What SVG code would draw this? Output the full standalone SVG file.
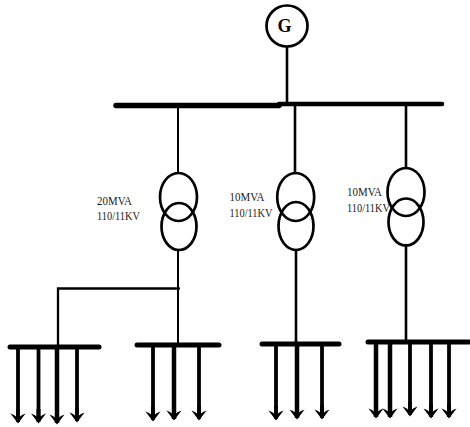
<svg xmlns="http://www.w3.org/2000/svg" width="470" height="427" viewBox="0 0 470 427">
  <style>
    .l{fill:none;stroke:#000;stroke-linecap:round}
    .c{fill:none;stroke:#000;stroke-width:2.7}
    .t{font-family:"Liberation Serif","Times New Roman",serif;font-size:11.5px;fill:#1c1c1c}
    .a{fill:none;stroke:#000;stroke-width:3.8;marker-end:url(#h)}
  </style>
  <defs>
    <marker id="h" markerUnits="userSpaceOnUse" markerWidth="16" markerHeight="15" refX="8" refY="13" orient="0" viewBox="0 0 16 15">
      <path d="M8 14.500L0.500 4.500L4 6L6 7.500V0H10V7.500L12 6L15.500 4.500Z" fill="#000"/>
    </marker>
  </defs>
  <rect width="470" height="427" fill="#fff"/>
  <g id="connectors">
    <path class="l" stroke-width="2.600" d="M287 47V103"/>
    <path class="l" stroke-width="5.500" d="M116 105.500H279"/>
    <path class="l" stroke-width="4.500" d="M279 104H442"/>
    <path class="l" stroke-width="2" d="M178 106V173M178 250V345"/>
    <path class="l" stroke-width="2.600" d="M295 105V173M296 250V344M406 105V168M406 245V341"/>
    <path class="l" stroke-width="2.300" d="M179 288.500H58V346"/>
  </g>
  <g id="generator">
    <circle class="c" cx="287" cy="26" r="20.500"/>
    <text x="284.500" y="32" text-anchor="middle" font-family="Liberation Serif, serif" font-size="18" font-weight="bold">G</text>
  </g>
  <g id="transformer-1">
    <ellipse class="c" cx="178.500" cy="197" rx="18.500" ry="24"/>
    <ellipse class="c" cx="179" cy="226.500" rx="17.500" ry="23.500"/>
    <text class="t" x="97" y="205" textLength="35" lengthAdjust="spacingAndGlyphs">20MVA</text>
    <text class="t" x="97" y="220" textLength="43" lengthAdjust="spacingAndGlyphs">110/11KV</text>
  </g>
  <g id="transformer-2">
    <ellipse class="c" cx="295.700" cy="197" rx="18.500" ry="24"/>
    <ellipse class="c" cx="296" cy="226" rx="17.500" ry="24"/>
    <text class="t" x="229.500" y="201" textLength="35" lengthAdjust="spacingAndGlyphs">10MVA</text>
    <text class="t" x="229.500" y="217" textLength="43" lengthAdjust="spacingAndGlyphs">110/11KV</text>
  </g>
  <g id="transformer-3">
    <ellipse class="c" cx="406" cy="192" rx="18.500" ry="24"/>
    <ellipse class="c" cx="406" cy="222" rx="17.500" ry="23.500"/>
    <text class="t" x="347" y="196" textLength="35" lengthAdjust="spacingAndGlyphs">10MVA</text>
    <text class="t" x="347" y="212" textLength="43" lengthAdjust="spacingAndGlyphs">110/11KV</text>
  </g>
  <g id="load-bus-1">
    <path class="l" stroke-width="5" d="M10 347H99"/>
    <path class="a" d="M18 348V422"/>
    <path class="a" d="M38.500 348V422"/>
    <path class="a" stroke-width="4.500" style="stroke-width:4.500px" d="M57 348V423"/>
    <path class="a" d="M77 348V421"/>
  </g>
  <g id="load-bus-2">
    <path class="l" stroke-width="5" d="M137 345H219"/>
    <path class="a" d="M153 346V420"/>
    <path class="a" style="stroke-width:4.500px" d="M174 346V419"/>
    <path class="a" d="M199 346V419"/>
  </g>
  <g id="load-bus-3">
    <path class="l" stroke-width="5" d="M262 344H339"/>
    <path class="a" d="M276 345V419"/>
    <path class="a" style="stroke-width:4.500px" d="M297 345V418"/>
    <path class="a" d="M322 345V418"/>
  </g>
  <g id="load-bus-4">
    <path class="l" stroke-width="5" d="M368 342H469"/>
    <path class="a" style="stroke-width:4.500px" d="M376 343V417"/>
    <path class="a" style="stroke-width:4.500px" d="M390 343V417"/>
    <path class="a" d="M410 343V415"/>
    <path class="a" d="M431 343V417"/>
    <path class="a" d="M449 343V417"/>
  </g>
</svg>
